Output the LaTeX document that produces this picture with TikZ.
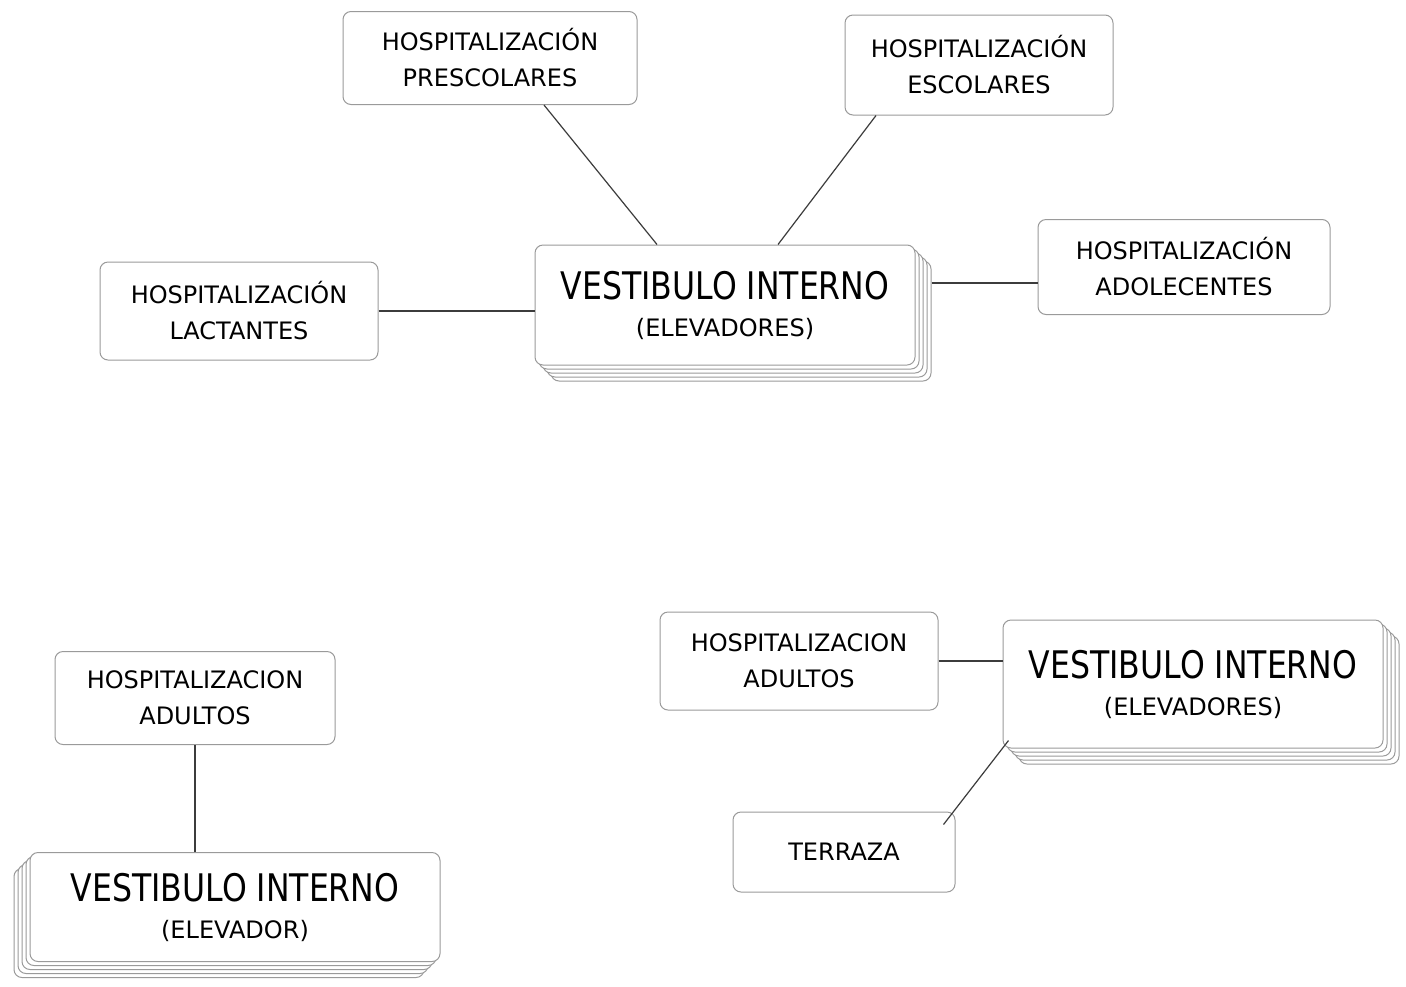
\documentclass[tikz,border=0pt]{standalone}
\usepackage{fontspec}
\newfontfamily\labelfont{DejaVu Sans}
\newfontfamily\bigfont[FakeStretch=0.83]{DejaVu Sans}
\usetikzlibrary{shadows}
\definecolor{boxgray}{HTML}{9A9A9A}
\definecolor{linegray}{HTML}{3C3C3C}
\tikzset{
  unit/.style={draw=boxgray,fill=white,rounded corners=4pt,line width=0.5pt,align=center,inner sep=0pt,
    font=\labelfont\fontsize{12}{18}\selectfont},
  hall/.style={unit,font=\labelfont\fontsize{12}{18.5}\selectfont},
  stackright/.style={
    copy shadow={shadow xshift=8pt,shadow yshift=-8pt,draw=boxgray,fill=white},
    copy shadow={shadow xshift=6pt,shadow yshift=-6pt,draw=boxgray,fill=white},
    copy shadow={shadow xshift=4pt,shadow yshift=-4pt,draw=boxgray,fill=white},
    copy shadow={shadow xshift=2pt,shadow yshift=-2pt,draw=boxgray,fill=white}},
  stackleft/.style={
    copy shadow={shadow xshift=-8pt,shadow yshift=-8pt,draw=boxgray,fill=white},
    copy shadow={shadow xshift=-6pt,shadow yshift=-6pt,draw=boxgray,fill=white},
    copy shadow={shadow xshift=-4pt,shadow yshift=-4pt,draw=boxgray,fill=white},
    copy shadow={shadow xshift=-2pt,shadow yshift=-2pt,draw=boxgray,fill=white}},
  link/.style={draw=linegray,line width=0.6pt}
}
\newcommand{\hallname}[1]{{\bigfont\fontsize{19}{19}\selectfont VESTIBULO INTERNO}\\#1}

\begin{document}
\begin{tikzpicture}[x=0.5pt,y=-0.5pt]
\fill[white] (0,0) rectangle (1406,986);
\useasboundingbox (0,0) rectangle (1406,986);
% upper floor
\node[hall,stackright,minimum width=190pt,minimum height=60pt] (vest1) at (725,305) {\hallname{(ELEVADORES)}};
\node[unit,minimum width=147pt,minimum height=46.5pt] (pres) at (490,58) {HOSPITALIZACIÓN\\PRESCOLARES};
\node[unit,minimum width=134pt,minimum height=50pt] (esc) at (979,65) {HOSPITALIZACIÓN\\ESCOLARES};
\node[unit,minimum width=139pt,minimum height=49pt] (lact) at (239,311) {HOSPITALIZACIÓN\\LACTANTES};
\node[unit,minimum width=146pt,minimum height=47.5pt] (adol) at (1184,267) {HOSPITALIZACIÓN\\ADOLECENTES};
\draw[link] ([xshift=27pt]pres.south) -- ([xshift=-34pt]vest1.north);
\draw[link] ([xshift=-51.5pt]esc.south) -- ([xshift=26.5pt]vest1.north);
\draw[link] (lact.east) -- (lact.east -| vest1.west);
\draw[link] ([xshift=8pt,yshift=11pt]vest1.east) -- ([yshift=-8pt]adol.west);
% lower left
\node[unit,minimum width=140pt,minimum height=46.5pt] (adl1) at (195,698) {HOSPITALIZACION\\ADULTOS};
\node[hall,stackleft,minimum width=205pt,minimum height=54.5pt] (vest3) at (235,907) {\hallname{(ELEVADOR)}};
\draw[link] (adl1.south) -- (adl1.south |- vest3.north);
% lower right
\node[hall,stackright,minimum width=190pt,minimum height=64pt] (vest2) at (1193,684) {\hallname{(ELEVADORES)}};
\node[unit,minimum width=139pt,minimum height=49pt] (adl2) at (799,661) {HOSPITALIZACION\\ADULTOS};
\node[unit,minimum width=111pt,minimum height=40pt] (ter) at (844,852) {TERRAZA};
\draw[link] (adl2.east) -- (adl2.east -| vest2.west);
\draw[link] ([xshift=-6pt,yshift=-6.5pt]ter.north east) -- ([xshift=3pt,yshift=4pt]vest2.south west);
\end{tikzpicture}
\end{document}
